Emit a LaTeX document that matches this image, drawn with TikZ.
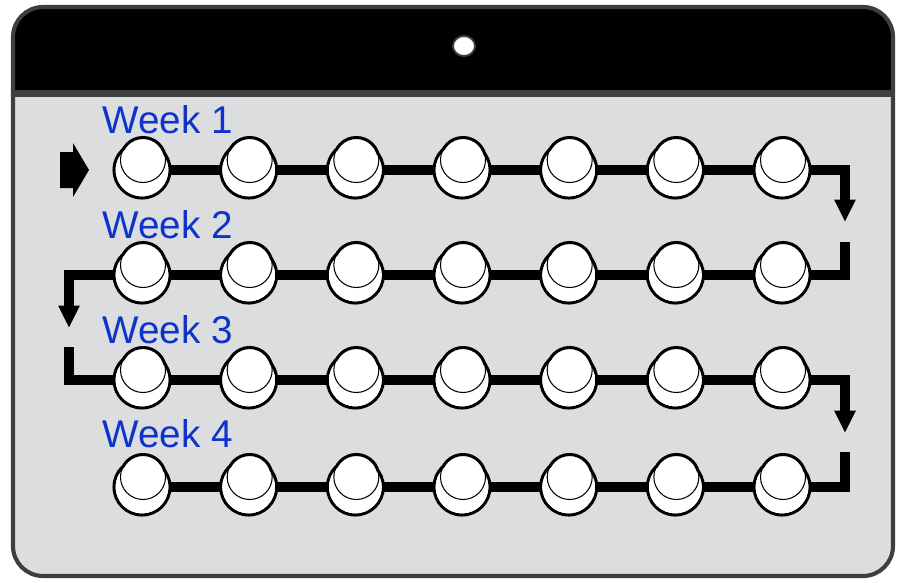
\documentclass[tikz,border=0pt]{standalone}
\usepackage{fontspec}
\setmainfont{Liberation Sans}
\usepackage{xcolor}
\usetikzlibrary{calc,arrows.meta}

\definecolor{panelgray}{RGB}{220,221,223}
\definecolor{rimgray}{RGB}{62,62,62}
\definecolor{weekblue}{RGB}{12,52,204}

\begin{document}
\begin{tikzpicture}[x=0.03cm,y=-0.03cm,
  track/.style={line width=9pt,black,line join=miter},
  trackarrow/.style={track,-{Triangle[width=17pt,length=19pt]}},
  weeklabel/.style={anchor=base west,inner sep=0pt,text=weekblue,font=\fontsize{33}{36}\selectfont},
  btnrim/.style={fill=white,draw=black,line width=2.6pt}]

\useasboundingbox (0,0) rectangle (898,582);

% =====================
% Card with black header
% =====================
\fill[panelgray,rounded corners=0.9cm] (13,7) rectangle (893,576);
\begin{scope}
\clip[rounded corners=0.9cm] (13,7) rectangle (893,576);
\fill[black] (13,7) rectangle (893,90);
\fill[rimgray] (13,90) rectangle (893,97);
\end{scope}
\draw[rimgray,line width=3.5pt,rounded corners=0.9cm] (13,7) rectangle (893,576);

% hanging hole
\filldraw[fill=white,draw=rimgray,line width=1.6pt] (464,46) ellipse (11 and 10);

% =====================
% Button positions (4 weeks x 7 days)
% =====================
\foreach \r/\y in {1/170,2/275,3/380,4/487}
  \foreach \c in {1,...,7}
    \coordinate (b-\r-\c) at ({142+(\c-1)*106.67},\y);

% turning points of the track
\coordinate (t1) at (845,222);
\coordinate (s2) at (845,242);
\coordinate (t2) at (69,328);
\coordinate (s3) at (69,347);
\coordinate (t3) at (845,433);
\coordinate (s4) at (845,452);

% =====================
% Track through the days
% =====================
\draw[trackarrow] (b-1-1) -| (t1);
\draw[trackarrow] (s2) |- (b-2-1) -| (t2);
\draw[trackarrow] (s3) |- (b-3-7) -| (t3);
\draw[track] (s4) |- (b-4-1);

% start arrow
\fill[black] (60,152) -- (73,152) -- (73,143) -- (89,170) -- (73,197) -- (73,188) -- (60,188) -- cycle;

% =====================
% Buttons
% =====================
\foreach \r in {1,...,4}
  \foreach \c in {1,...,7} {
    \filldraw[btnrim] (b-\r-\c) circle (28);
    \filldraw[btnrim] ($(b-\r-\c)+(1,-10)$) circle (22.5);
    \fill[white] (b-\r-\c) circle (26.3);
    \draw[black,line width=0.9pt] ($(b-\r-\c)+(1,-10)$) circle (22.5);
  }

% =====================
% Week labels
% =====================
\node[weeklabel] (w1) at (102,133) {Week 1};
\node[weeklabel] (w2) at (102,238) {Week 2};
\node[weeklabel] (w3) at (102,343) {Week 3};
\node[weeklabel] (w4) at (102,447) {Week 4};
\end{tikzpicture}
\end{document}
